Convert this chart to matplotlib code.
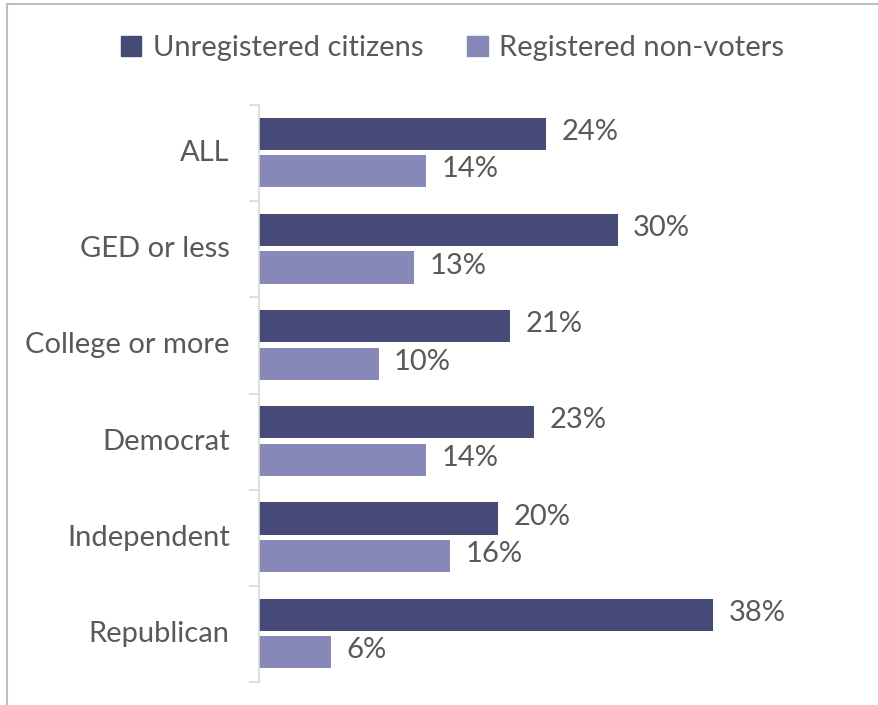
import matplotlib.pyplot as plt
from matplotlib.patches import Patch, Rectangle
import numpy as np

categories = ["ALL", "GED or less", "College or more", "Democrat", "Independent", "Republican"]
unregistered = [24, 30, 21, 23, 20, 38]
registered_nonvoters = [14, 13, 10, 14, 16, 6]
series_names = ["Unregistered citizens", "Registered non-voters"]

dark = "#464a77"
light = "#8689b8"
txt = "#595959"

plt.rcParams['font.family'] = ['Lato', 'DejaVu Sans']
fs = 21

fig = plt.figure(figsize=(8.79, 7.05), dpi=100)
ax = fig.add_axes([259/879, 23/705, 600/879, 577/705])

y = np.arange(len(categories))
h = 0.335
ax.barh(y - 0.2, unregistered, height=h, color=dark)
ax.barh(y + 0.19, registered_nonvoters, height=h, color=light)

for i in range(len(categories)):
    ax.text(unregistered[i] + 1.3, y[i] - 0.22, f"{unregistered[i]}%", va='center', ha='left',
            fontsize=fs, color=txt)
    ax.text(registered_nonvoters[i] + 1.3, y[i] + 0.17, f"{registered_nonvoters[i]}%", va='center', ha='left',
            fontsize=fs, color=txt)

ax.set_ylim(len(categories) - 0.5, -0.5)
ax.set_xlim(0, 50.2)
ax.set_yticks(y)
ax.set_yticklabels(categories, fontsize=fs, color=txt, va='center')
ax.set_yticks(np.arange(-0.5, len(categories)), minor=True)
ax.tick_params(axis='y', which='major', length=0, pad=21)
ax.tick_params(axis='y', which='minor', length=7, color="#d9d9d9", width=1.2)
ax.set_xticks([])
for s in ['top', 'right', 'bottom']:
    ax.spines[s].set_visible(False)
ax.spines['left'].set_color("#d9d9d9")
ax.spines['left'].set_linewidth(1.2)

handles = [Patch(color=dark), Patch(color=light)]
fig.legend(handles, series_names, loc='center', bbox_to_anchor=(0.515, 1 - 48/705), ncol=2,
           frameon=False, fontsize=fs, labelcolor=txt, handlelength=0.7, handleheight=0.7,
           handletextpad=0.4, columnspacing=1.5)

# chart border
fig.patches.append(Rectangle((7/879, -0.1), 1.2, 1.1 - 4/705, transform=fig.transFigure,
                             fill=False, edgecolor="#bfbfbf", linewidth=1.5))

fig.savefig("out.png", dpi=100)
